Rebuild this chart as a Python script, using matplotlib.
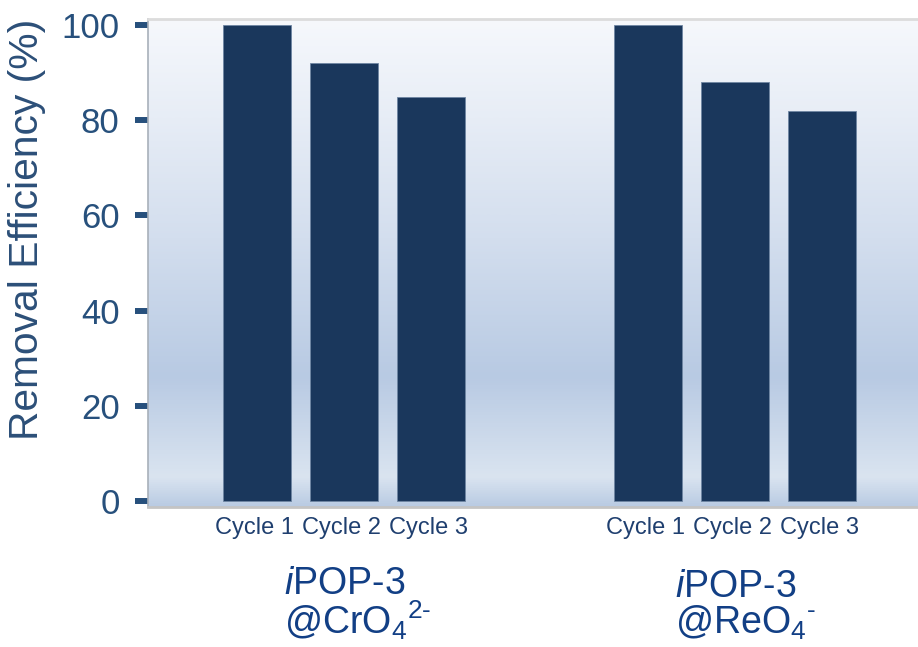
import numpy as np
import matplotlib
matplotlib.use("Agg")
import matplotlib.pyplot as plt
from matplotlib.colors import LinearSegmentedColormap
from matplotlib.transforms import blended_transform_factory

plt.rcParams['font.family'] = ['Liberation Sans', 'DejaVu Sans']
plt.rcParams['mathtext.fontset'] = 'custom'
plt.rcParams['mathtext.rm'] = 'Liberation Sans'
plt.rcParams['mathtext.it'] = 'Liberation Sans:italic'

# Data
cycles = ["Cycle 1", "Cycle 2", "Cycle 3"]
group_line1 = [r"$\mathit{i}$POP-3", r"$\mathit{i}$POP-3"]
group_line2 = [r"@CrO$_4$$^{2\text{-}}$", r"@ReO$_4$$^{\text{-}}$"]
cro4_eff = [100, 92, 85]
reo4_eff = [100, 88, 82]
yticks = [0, 20, 40, 60, 80, 100]

bar_color = "#1a375c"
tick_color = "#27507c"
label_color = "#2c4f78"
group_color = "#123f85"

fig = plt.figure(figsize=(9.18, 6.47), dpi=100)
ax = fig.add_axes([148 / 918, 1 - 507 / 647, 770 / 918, 488 / 647])

offsets = [0.0, 4.5]
for off, vals in zip(offsets, [cro4_eff, reo4_eff]):
    xs = off + np.arange(len(vals))
    ax.bar(xs, vals, width=0.78, color=bar_color, edgecolor="#6f86a3",
           linewidth=0.6, zorder=2)
    for x, lab in zip(xs, cycles):
        ax.text(x - 0.03, -3.4, lab, ha="center", va="top", fontsize=17,
                color="#1f3f6f")

ax.set_xlim(-1.25, 7.6)
ax.set_ylim(-1.3, 101.3)

# vertical gradient background
stops = [(0.0, "#b9cbe3"), (0.06, "#dae4f0"), (0.266, "#b8cae3"),
         (0.55, "#d3deee"), (0.8, "#e7edf6"), (1.0, "#f6f8fc")]
cmap = LinearSegmentedColormap.from_list("bg", stops)
grad = np.linspace(0, 1, 512).reshape(-1, 1)
ax.imshow(grad, cmap=cmap, aspect="auto", origin="lower",
          extent=(-1.25, 7.6, -1.3, 101.3), zorder=0)

ax.set_xticks([])
ax.set_yticks(yticks)
ax.tick_params(axis="y", direction="out", length=9.5, width=4.3,
               color=tick_color, labelcolor=tick_color, labelsize=25, pad=11)
ax.set_ylabel("Removal Efficiency (%)", fontsize=29.3, color=label_color)
ax.yaxis.set_label_coords(-0.132, 0.568)

ax.spines["top"].set_color("#dcdcdc")
ax.spines["top"].set_linewidth(2)
ax.spines["bottom"].set_color("#c4c4c4")
ax.spines["bottom"].set_linewidth(2)
ax.spines["left"].set_color("#a8b0ba")
ax.spines["left"].set_linewidth(1.2)
ax.spines["right"].set_visible(False)

# two-line group captions, left aligned under each group
# (the ReO4- line has a shorter superscript, so it needs a bit more spacing)
trans = blended_transform_factory(ax.transData, fig.transFigure)
spacings = [0.9, 0.98]
for off, l1, l2, ls in zip(offsets, group_line1, group_line2, spacings):
    x0 = off + 1 - 0.69
    ax.text(x0, 1 - 634 / 647, l1 + "\n" + l2, transform=trans, ha="left",
            va="baseline", multialignment="left", linespacing=ls,
            fontsize=27, color=group_color)

fig.savefig("out.png", dpi=100)
